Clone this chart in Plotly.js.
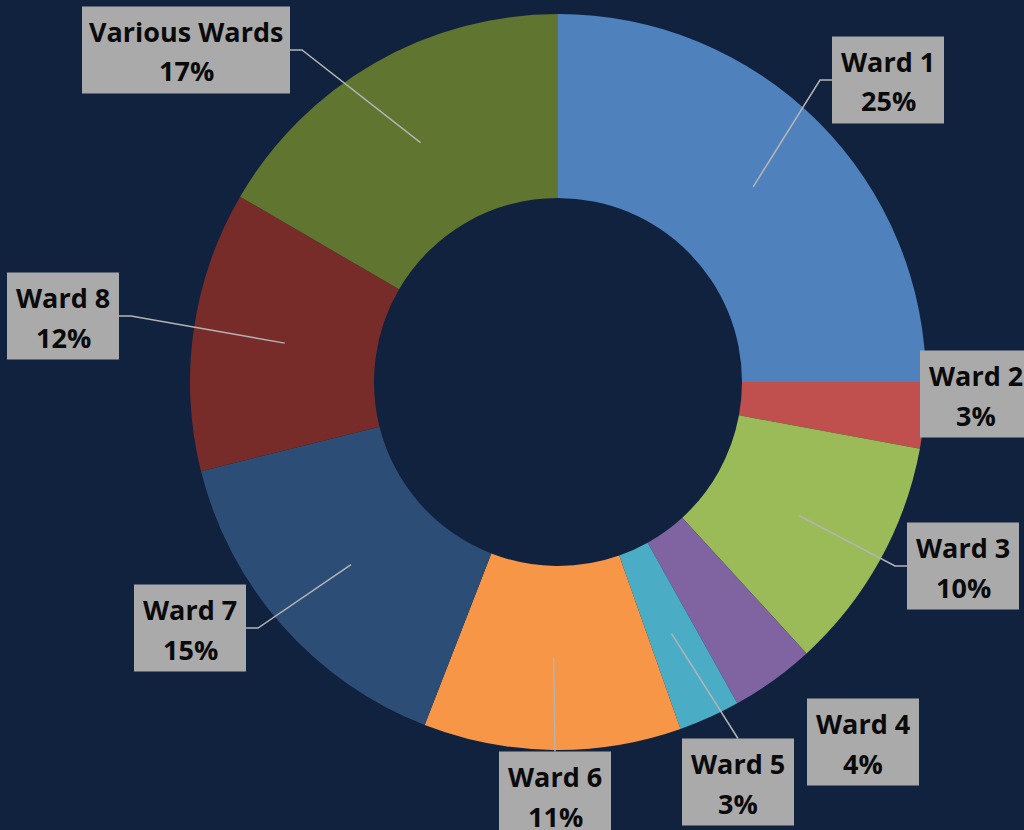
<!DOCTYPE html>
<html>
<head>
<meta charset="utf-8">
<script src="https://cdn.plot.ly/plotly-3.0.1.min.js"></script>
<style>
  html, body { margin: 0; padding: 0; background: #10223E; }
  #chart { width: 1024px; height: 830px; }
</style>
</head>
<body>
<div id="chart"></div>
<script>
// ---- data ----
const labels = ['Ward 1', 'Ward 2', 'Ward 3', 'Ward 4', 'Ward 5', 'Ward 6', 'Ward 7', 'Ward 8', 'Various Wards'];
const values = [25, 2.9, 10.3, 3.7, 2.7, 11.3, 15.2, 12.3, 16.6];
const colors = ['#4F81BD', '#C0504D', '#9BBB59', '#8064A2', '#4BACC6', '#F79646', '#2C4D75', '#772C2A', '#5F7530'];

// ---- layout (label box centres in pixels, leader side) ----
const W = 1024, H = 830;
const CX = 558, CY = 382, R = 368, HOLE = 0.5;
const boxCenters = [[888, 80], [976, 394], [963, 566], [863, 742], [738, 782], [555, 795], [190, 628], [63, 316], [186, 50]];
const boxWidths = [112, 112, 112, 112, 112, 112, 112, 112, 208];
const boxH = 87;
const leaderSide = ['r', null, 'r', null, 't', 't', 'l', 'l', 'l'];

const px = x => x / W;
const py = y => 1 - y / H;

const total = values.reduce((a, b) => a + b, 0);
const annotations = [];
const shapes = [];
const labelFont = { family: 'Open Sans, sans-serif', size: 27, color: '#0A0A0A', weight: 700 };
let cum = 0;
values.forEach((v, i) => {
  const mid = (cum + v / 2) / total * 2 * Math.PI;
  cum += v;
  const rr = R * (1 + HOLE) / 2;
  const tx = CX + rr * Math.sin(mid);
  const ty = CY - rr * Math.cos(mid);
  const [bx, by] = boxCenters[i];
  const bw = boxWidths[i];
  const pct = Math.round(v / total * 100) + '%';
  shapes.push({ type: 'rect', xref: 'paper', yref: 'paper',
    x0: px(bx - bw / 2), x1: px(bx + bw / 2), y0: py(by + boxH / 2), y1: py(by - boxH / 2),
    fillcolor: '#AAAAAA', line: { width: 0 }, layer: 'above' });
  annotations.push({
    xref: 'paper', yref: 'paper', x: px(bx), y: py(by - 19),
    xanchor: 'center', yanchor: 'middle', showarrow: false,
    text: labels[i], font: labelFont
  });
  annotations.push({
    xref: 'paper', yref: 'paper', x: px(bx), y: py(by + 21),
    xanchor: 'center', yanchor: 'middle', showarrow: false,
    text: pct, font: labelFont
  });
  const side = leaderSide[i];
  if (side) {
    let pts;
    if (side === 'r') {
      const ex = bx - bw / 2;
      pts = [[tx, ty], [ex - 12, by], [ex, by]];
    } else if (side === 'l') {
      const ex = bx + bw / 2;
      pts = [[tx, ty], [ex + 12, by], [ex, by]];
    } else {
      pts = [[tx, ty], [bx, by - boxH / 2]];
    }
    const path = pts.map((p, k) => (k ? 'L' : 'M') + px(p[0]).toFixed(5) + ',' + py(p[1]).toFixed(5)).join(' ');
    shapes.push({ type: 'path', xref: 'paper', yref: 'paper', path: path,
      line: { color: '#B4B4B4', width: 1.5 }, layer: 'above' });
  }
});

const trace = {
  type: 'pie',
  labels: labels,
  values: values,
  hole: HOLE,
  sort: false,
  direction: 'clockwise',
  rotation: 0,
  textinfo: 'none',
  hoverinfo: 'label+percent',
  marker: { colors: colors, line: { width: 0 } },
  domain: { x: [px(CX - R), px(CX + R)], y: [py(CY + R), py(CY - R)] },
  showlegend: false
};

const layout = {
  width: W, height: H,
  margin: { l: 0, r: 0, t: 0, b: 0 },
  paper_bgcolor: '#10223E',
  plot_bgcolor: '#10223E',
  showlegend: false,
  annotations: annotations,
  shapes: shapes
};

Plotly.newPlot('chart', [trace], layout, { displayModeBar: false, staticPlot: true });
</script>
</body>
</html>
